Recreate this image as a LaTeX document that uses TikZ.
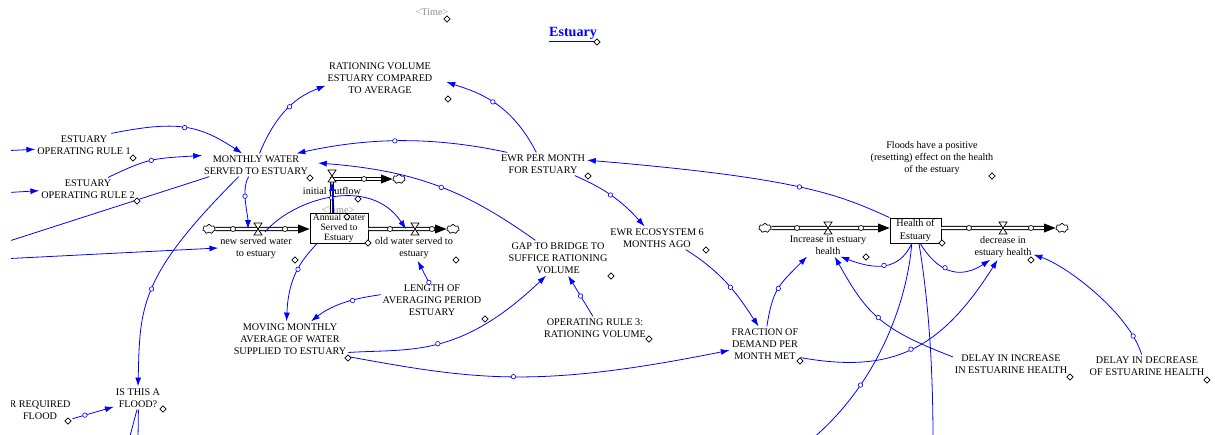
\documentclass[tikz,border=0pt]{standalone}
\usepackage{fontspec}
\setmainfont{Liberation Serif}
\usetikzlibrary{calc,positioning,shapes.geometric,shapes.symbols,arrows.meta}

% hourglass valve drawn on a flow pipe
\newcommand\valve[1]{%
  \draw[fill=white, line width=.4pt] ($(#1)+(-4,-6)$) -- ++(8,0) -- ++(-8,12) -- ++(8,0) -- cycle;}

\begin{document}
\begin{tikzpicture}[
    x=0.02cm, y=-0.02cm,
    font=\fontsize{5.8}{6.9}\selectfont,
    var/.style={align=center, inner sep=1pt},
    stock/.style={draw, fill=white, align=center, inner sep=0pt, line width=.5pt},
    shadow/.style={text=black!45, inner sep=1pt},
    link/.style={draw=blue, line width=.45pt, -{Latex[length=5pt,width=3.4pt]}},
    knob/.style={circle, draw=blue, fill=white, inner sep=0pt, minimum size=.09cm, line width=.35pt},
    handle/.style={circle, draw, fill=white, inner sep=0pt, minimum size=.1cm, line width=.35pt},
    tag/.style={diamond, draw, fill=white, inner sep=0pt, minimum size=.13cm, line width=.35pt},
    pipe/.style={draw, line width=.5pt, double=white, double distance=1.4pt, -{Triangle[length=6.5pt,width=5pt]}},
    cloudy/.style={cloud, cloud puffs=7, cloud ignores aspect, draw, fill=white, inner sep=0pt,
      minimum width=.25cm, minimum height=.19cm, line width=.4pt},
  ]
  \useasboundingbox (0,0) rectangle (1215,434);
  \clip (11,0) rectangle (1215,434);

  % variables
  \node[shadow] (time1) at (432,12) {<Time>};
  \node[text=blue, font=\fontsize{8}{9}\selectfont\bfseries] (title) at (573,35) {\underline{Estuary}};
  \node[var] (rvol) at (380,78) {RATIONING VOLUME\\ESTUARY COMPARED\\TO AVERAGE};
  \node[var] (rule1) at (84,145) {ESTUARY\\OPERATING RULE 1};
  \node[var] (rule2) at (88,189) {ESTUARY\\OPERATING RULE 2};
  \node[var] (mws) at (256,165) {MONTHLY WATER\\SERVED TO ESTUARY};
  \node[var] (ewr) at (543,164) {EWR PER MONTH\\FOR ESTUARY};
  \node[var] (floods) at (932,158) {Floods have a positive\\(resetting) effect on the health\\of the estuary};
  \node[var] (iout) at (332,191) {initial outflow};
  \node[stock, minimum width=1.16cm, minimum height=.6cm, font=\fontsize{5.5}{5.6}\selectfont]
    (aws) at (339,228) {Annual water\\Served to\\Estuary};
  \node[shadow] (time2) at (338,210) {<Time>};
  \node[var] (nsw) at (256,248) {new served water\\to estuary};
  \node[var] (osw) at (414,248) {old water served to\\estuary};
  \node[stock, minimum width=1.02cm, minimum height=.5cm] (hoe) at (915.5,230.5) {Health of\\Estuary};
  \node[var] (ieh) at (828,245) {Increase in estuary\\health};
  \node[var] (deh) at (1003,247) {decrease in\\estuary health};
  \node[var] (gap) at (558,258) {GAP TO BRIDGE TO\\SUFFICE RATIONING\\VOLUME};
  \node[var] (ewr6) at (657,238) {EWR ECOSYSTEM 6\\MONTHS AGO};
  \node[var] (lap) at (432,300) {LENGTH OF\\AVERAGING PERIOD\\ESTUARY};
  \node[var] (rule3) at (595,328) {OPERATING RULE 3:\\RATIONING VOLUME};
  \node[var] (mma) at (290,339) {MOVING MONTHLY\\AVERAGE OF WATER\\SUPPLIED TO ESTUARY};
  \node[var] (fdm) at (765,344) {FRACTION OF\\DEMAND PER\\MONTH MET};
  \node[var] (flood) at (138,398) {IS THIS A\\FLOOD?};
  \node[var] (wrf) at (40,410) {R REQUIRED\\FLOOD};
  \node[var] (dih) at (1011,364) {DELAY IN INCREASE\\IN ESTUARINE HEALTH};
  \node[var] (ddh) at (1147,366) {DELAY IN DECREASE\\OF ESTUARINE HEALTH};

  % free ends
  \coordinate (e1) at (0,151);
  \coordinate (e2) at (0,193);
  \coordinate (e3) at (0,244);
  \coordinate (e4) at (0,259);
  \coordinate (e5) at (811,440);
  \coordinate (e6) at (933,440);
  \coordinate (e7) at (129,440);
  \coordinate (e8) at (138,440);

  % flows
  \coordinate (v1) at (258,229);
  \coordinate (v2) at (415,229);
  \coordinate (v3) at (332,176);
  \coordinate (v4) at (828,228);
  \coordinate (v5) at (1003,228);
  \node[cloudy] (c1) at (209,229) {};
  \node[cloudy] (c2) at (453,229) {};
  \node[cloudy] (c3) at (399,179) {};
  \node[cloudy] (c4) at (765,228) {};
  \node[cloudy] (c5) at (1062,228) {};
  \draw[pipe] (c1.east) -- (aws.west |- c1);
  \draw[pipe] (aws.east |- c2) -- (c2.west);
  \draw[pipe] (aws.north -| v3) |- (c3.west);
  \draw[pipe] (c4.east) -- (hoe.west |- c4);
  \draw[pipe] (hoe.east |- c5) -- (c5.west);
  \valve{v1} \valve{v2} \valve{v3} \valve{v4} \valve{v5}
  \foreach \x/\y [count=\i] in {233/229, 285/229, 390/229, 432/229, 364/179,
      797/228, 861/228, 969/228, 1031/228}
    \node[handle] (h\i) at (\x,\y) {};

  % links
  \draw[link] (e1) -- (rule1.185);
  \draw[link] (e2) -- (rule2.182);
  \draw[link] (rule1.23) .. controls +(65,-13) and +(-44,-29) .. (mws.140) node[knob, pos=.5] (k1) {};
  \draw[link] (rule2.30) .. controls +(40,-19) and +(-50,3) .. (mws.170) node[knob, pos=.5] (k2) {};
  \draw[link] (ewr.162) .. controls +(-83,-18) and +(64,-14) .. (mws.16) node[knob, pos=.5] (k3) {};
  \draw[link] (gap.142) .. controls +(-65,-46) and +(104,8) .. ([shift={(8,-2)}]mws.east) node[knob, pos=.5] (k4) {};
  \draw[link, -] (mws.194) -- (e3);
  \draw[link] (e4) -- (nsw.west);
  \draw[link] (mws.214) .. controls +(-100,100) and +(2,-80) .. (flood.north) node[knob, pos=.5] (k5) {};
  \draw[link] (mws.238) .. controls +(-8,12) and +(0,-14) .. ($(v1)+(-10,0)$) node[knob, pos=.4] (k6) {};
  \draw[link] (mws.73) .. controls +(18,-44) and +(-26,10) .. (rvol.188) node[knob, pos=.5] (k7) {};
  \draw[link] (ewr.120) .. controls +(-26,-51) and +(30,10) .. ([shift={(12,4)}]rvol.east) node[knob, pos=.5] (k8) {};
  \draw[link] (ewr.340) .. controls +(27,12) and +(-25,-28) .. (ewr6.137) node[knob, pos=.5] (k9) {};
  \draw[link] (hoe.north west) .. controls +(-51,-23) and +(214,18) .. (ewr.5) node[knob, pos=.5] (k10) {};
  \draw[link] (ewr6.338) .. controls +(40,25) and +(-18,-27) .. (fdm.110) node[knob, pos=.5] (k11) {};
  \draw[link] (fdm.84) .. controls +(6,-37) and +(-29,29) .. (ieh.209) node[knob, pos=.5] (k12) {};
  \draw[link] (mma.347) .. controls +(62,-4) and +(-87,83) .. (gap.236) node[knob, pos=.5] (k13) {};
  \draw[link] (mma.south east) .. controls +(126,23) and +(-194,39) .. (fdm.190) node[knob, pos=.5] (k14) {};
  \draw[link] (rule3.100) -- (gap.300) node[knob, pos=.5] (k15) {};
  \draw[link] (lap.100) -- (osw.286) node[knob, pos=0] (k16) {};
  \draw[link] (lap.174) .. controls +(-10,2) and +(28,-22) .. (mma.40) node[knob, pos=.5] (k17) {};
  \draw[link] (aws.215) .. controls +(-12,14) and +(2,-49) .. (mma.101) node[knob, pos=.5] (k18) {};
  \draw[link] ($(v1)+(7,3)$) .. controls +(27,-32) and +(-37,-55) .. ($(v2)+(-9,0)$) node[knob, pos=.5] (k19) {};
  \draw[link] (aws.north -| v3) -- ($(v3)+(0,6)$);
  \draw[link] (hoe.254) .. controls +(-13,28) and +(34,13) .. (ieh.317) node[knob, pos=.5] (k20) {};
  \draw[link] (hoe.290) .. controls +(11,18) and +(-38,25) .. (deh.225) node[knob, pos=.5] (k21) {};
  \draw[link, -] (hoe.254) .. controls +(-4,52) and +(71,-60) .. (e5) node[knob, pos=.72] (k22) {};
  \draw[link, -] (hoe.285) .. controls +(10,60) and +(0,-70) .. (e6);
  \draw[link] (dih.173) .. controls +(-73,-28) and +(32,57) .. (ieh.300) node[knob, pos=.5] (k23) {};
  \draw[link] (fdm.339) .. controls +(90,16) and +(-58,92) .. (deh.247) node[knob, pos=.5] (k24) {};
  \draw[link] (ddh.115) .. controls +(-12,-40) and +(35,12) .. (deh.346) node[knob, pos=.15] (k25) {};
  \draw[link] (wrf.345) -- (flood.200) node[knob, pos=.3] (k26) {};
  \draw[link, -] (flood.265) -- (e7);
  \draw[link, -] (flood.272) -- (e8);

  % comment marks
  \foreach \x/\y [count=\i] in {447/19, 597/42, 448/99, 133/158, 137/201, 310/178, 588/176,
      992/176, 358/199, 347/217, 368/243, 295/260, 456/260, 942/243, 866/257, 1031/260,
      611/276, 706/250, 485/319, 649/339, 348/358, 800/361, 163/409, 68/421, 1070/377, 1207/380}
    \node[tag] (tag\i) at (\x,\y) {};
\end{tikzpicture}
\end{document}
